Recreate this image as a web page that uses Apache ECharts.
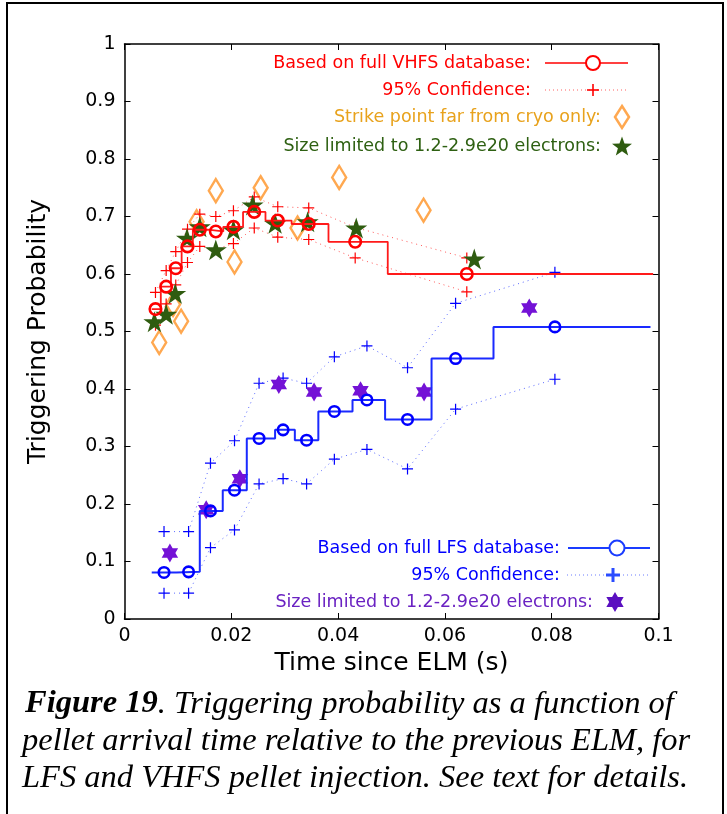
<!DOCTYPE html>
<html>
<head>
<meta charset="utf-8">
<script src="https://cdn.jsdelivr.net/npm/echarts@6.0.0/dist/echarts.min.js"></script>
<style>
html,body{margin:0;padding:0;background:#fff;}
#chart{width:727px;height:814px;}
</style>
</head>
<body>
<div id="chart"></div>
<script>
// ---- Data ----
// VHFS (red)
const vhfsT     = [0.0058, 0.0078, 0.0096, 0.0118, 0.0141, 0.0171, 0.0204, 0.0243, 0.0287, 0.0345, 0.0432, 0.0641];
const vhfsP     = [0.539, 0.578, 0.610, 0.648, 0.677, 0.674, 0.682, 0.708, 0.693, 0.687, 0.656, 0.600];
const vhfsUpper = [0.568, 0.606, 0.639, 0.678, 0.704, 0.700, 0.710, 0.734, 0.717, 0.715, 0.681, 0.628];
const vhfsLower = [0.511, 0.548, 0.581, 0.620, 0.648, 0.643, 0.653, 0.680, 0.664, 0.660, 0.628, 0.569];
const vhfsEdges = [0.0051, 0.0068, 0.0087, 0.0107, 0.0128, 0.0156, 0.0185, 0.0222, 0.0264, 0.0313, 0.0382, 0.0493, 0.0990];
// Strike point far from cryo only (orange diamonds)
const strikeT = [0.0065, 0.0091, 0.0106, 0.0135, 0.0171, 0.0206, 0.0255, 0.0324, 0.0402, 0.0560];
const strikeP = [0.481, 0.547, 0.518, 0.691, 0.745, 0.621, 0.750, 0.680, 0.768, 0.711];
// VHFS size limited (green stars)
const sizeVT = [0.0056, 0.0078, 0.0095, 0.0117, 0.0141, 0.0171, 0.0204, 0.0240, 0.0282, 0.0343, 0.0434, 0.0655];
const sizeVP = [0.517, 0.530, 0.566, 0.662, 0.682, 0.642, 0.677, 0.720, 0.688, 0.691, 0.680, 0.626];
// LFS (blue)
const lfsT     = [0.0074, 0.0120, 0.0161, 0.0206, 0.0252, 0.0297, 0.0341, 0.0393, 0.0454, 0.0530, 0.0620, 0.0806];
const lfsP     = [0.081, 0.082, 0.188, 0.224, 0.314, 0.329, 0.311, 0.361, 0.381, 0.347, 0.453, 0.508];
const lfsUpper = [0.152, 0.152, 0.271, 0.310, 0.410, 0.419, 0.410, 0.456, 0.475, 0.437, 0.549, 0.603];
const lfsLower = [0.045, 0.045, 0.124, 0.155, 0.235, 0.244, 0.235, 0.278, 0.295, 0.261, 0.365, 0.417];
const lfsEdges = [0.0051, 0.0097, 0.0141, 0.0184, 0.0229, 0.0282, 0.0319, 0.0363, 0.0427, 0.0488, 0.0575, 0.0691, 0.0985];
// LFS size limited (purple stars)
const sizeLT = [0.0085, 0.0153, 0.0216, 0.0289, 0.0355, 0.0442, 0.0561, 0.0758];
const sizeLP = [0.115, 0.190, 0.244, 0.408, 0.395, 0.397, 0.395, 0.541];
// Axis ticks
const xTicks = [0, 0.02, 0.04, 0.06, 0.08, 0.1];
const yTicks = [0, 0.1, 0.2, 0.3, 0.4, 0.5, 0.6, 0.7, 0.8, 0.9, 1];

// Legend / caption texts
const vhfsLegend = ['Based on full VHFS database:', '95% Confidence:', 'Strike point far from cryo only:', 'Size limited to 1.2-2.9e20 electrons:'];
const lfsLegend = ['Based on full LFS database:', '95% Confidence:', 'Size limited to 1.2-2.9e20 electrons:'];
const captionLines = ['{b|Figure 19}. Triggering probability as a function of',
  'pellet arrival time relative to the previous ELM, for',
  'LFS and VHFS pellet injection. See text for details.'];

// ---- helpers ----
const zip = (a, b) => a.map((v, i) => [v, b[i]]);
function stepData(edges, vals) {
  const d = vals.map((v, i) => [edges[i], v]);
  d.push([edges[edges.length - 1], vals[vals.length - 1]]);
  return d;
}
const PLUS = 'path://M0,5L10,5M5,0L5,10';
const STAR5 = 'path://M50,0L61.2,34.5L97.6,34.5L68.2,55.9L79.4,90.5L50,69.1L20.6,90.5L31.8,55.9L2.4,34.5L38.8,34.5Z';
const STAR6 = 'path://M50,0L64.4,25L93.3,25L78.9,50L93.3,75L64.4,75L50,100L35.6,75L6.7,75L21.1,50L6.7,25L35.6,25Z';
function starPoints(cx, cy, rO, rI, n) {
  const p = [];
  for (let i = 0; i < 2 * n; i++) {
    const r = i % 2 === 0 ? rO : rI;
    const a = -Math.PI / 2 + i * Math.PI / n;
    p.push([cx + r * Math.cos(a), cy + r * Math.sin(a)]);
  }
  return p;
}

const FONT = '"DejaVu Sans", sans-serif';
const RED = '#ff0000', BLUE = '#0000ff';
const ORANGE_T = '#e8a21c', ORANGE_M = '#ffa850';
const GREEN_T = '#2e6012', GREEN_M = '#2f5c10';
const PURPLE_T = '#6a22c2', PURPLE_M = '#7412d6';
const LF = 17.5;

const axisCommon = {
  type: 'value',
  splitLine: { show: false },
  axisLine: { onZero: false, lineStyle: { color: '#000', width: 1.5 } },
  axisTick: { inside: true, length: 6, lineStyle: { color: '#000', width: 1 } }
};

const chart = echarts.init(document.getElementById('chart'), null, { renderer: 'canvas' });

// legend graphics
const G = [];
function legText(txt, xr, y, color) {
  G.push({ type: 'text', x: xr, y: y, z: 100, style: { text: txt, fill: color, fontSize: LF, fontFamily: FONT, align: 'right', verticalAlign: 'middle' } });
}
function legLine(x1, x2, y, color, dotted, w) {
  G.push({ type: 'line', z: 100, shape: { x1: x1, y1: y, x2: x2, y2: y }, style: { stroke: color, lineWidth: w || 1.5, lineDash: dotted ? [1, 3] : null } });
}
function legCircle(cx, cy, r, color) {
  G.push({ type: 'circle', z: 101, shape: { cx: cx, cy: cy, r: r }, style: { fill: '#fff', stroke: color, lineWidth: 2 } });
}
function legPlus(cx, cy, s, color, w) {
  G.push({ type: 'line', z: 101, shape: { x1: cx - s, y1: cy, x2: cx + s, y2: cy }, style: { stroke: color, lineWidth: w } });
  G.push({ type: 'line', z: 101, shape: { x1: cx, y1: cy - s, x2: cx, y2: cy + s }, style: { stroke: color, lineWidth: w } });
}
// top legend (VHFS)
legText(vhfsLegend[0], 531, 63, RED); legLine(545, 628, 63, RED, false, 1.5); legCircle(593, 63, 7, RED);
legText(vhfsLegend[1], 531, 90, RED); legLine(545, 628, 90, '#ff6060', true, 1); legPlus(593, 90, 6, RED, 1.6);
legText(vhfsLegend[2], 601, 117, ORANGE_T);
G.push({ type: 'polygon', z: 101, shape: { points: [[622, 106], [629, 117], [622, 128], [615, 117]] }, style: { fill: 'none', stroke: ORANGE_M, lineWidth: 2.5 } });
legText(vhfsLegend[3], 601, 146, GREEN_T);
G.push({ type: 'polygon', z: 101, shape: { points: starPoints(622, 147, 10.5, 4.3, 5) }, style: { fill: GREEN_M } });
// bottom legend (LFS)
legText(lfsLegend[0], 560, 548, BLUE); legLine(568, 650, 548, '#1a3cff', false, 2); legCircle(617, 548, 7.5, '#1a3cff');
legText(lfsLegend[1], 560, 575, BLUE); legLine(567, 648, 575, '#6a7cff', true, 1); legPlus(613, 575, 7, '#2a4cff', 3);
legText(lfsLegend[2], 593, 602, PURPLE_T);
G.push({ type: 'polygon', z: 101, shape: { points: starPoints(615, 602, 10, 5.8, 6) }, style: { fill: '#5a10c0' } });
// page frame
G.push({ type: 'rect', z: 0, shape: { x: 7, y: 3, width: 716, height: 830 }, style: { fill: 'none', stroke: '#000', lineWidth: 2 } });
// caption
const capY = [704, 741, 778];
captionLines.forEach((t, i) => {
  G.push({ type: 'text', x: i === 0 ? 25 : 22, y: capY[i], z: 100,
    style: { text: t, fill: '#000', fontSize: 32.5, fontFamily: '"Liberation Serif", serif', fontStyle: 'italic', verticalAlign: 'middle',
      rich: { b: { fontSize: 32.5, fontFamily: '"Liberation Serif", serif', fontStyle: 'italic', fontWeight: 'bold', fill: '#000' } } } });
});

const option = {
  backgroundColor: '#fff',
  animation: false,
  grid: { left: 124.5, top: 44, right: 68.5, bottom: 195, containLabel: false, outerBoundsMode: 'none' },
  xAxis: [
    Object.assign({}, axisCommon, {
      position: 'bottom', min: xTicks[0], max: xTicks[xTicks.length - 1], interval: xTicks[1] - xTicks[0],
      axisLabel: { fontSize: 19, color: '#000', fontFamily: FONT, margin: 8 },
      name: 'Time since ELM (s)', nameLocation: 'middle', nameGap: 29,
      nameTextStyle: { fontSize: 25, color: '#000', fontFamily: FONT }
    }),
    Object.assign({}, axisCommon, {
      position: 'top', min: xTicks[0], max: xTicks[xTicks.length - 1], interval: xTicks[1] - xTicks[0],
      axisLabel: { show: false }
    })
  ],
  yAxis: [
    Object.assign({}, axisCommon, {
      position: 'left', min: yTicks[0], max: yTicks[yTicks.length - 1], interval: yTicks[1] - yTicks[0],
      axisLabel: { fontSize: 19, color: '#000', fontFamily: FONT, margin: 9 },
      name: 'Triggering Probability', nameLocation: 'middle', nameGap: 74, nameRotate: 90,
      nameTextStyle: { fontSize: 25, color: '#000', fontFamily: FONT }
    }),
    Object.assign({}, axisCommon, {
      position: 'right', min: yTicks[0], max: yTicks[yTicks.length - 1], interval: yTicks[1] - yTicks[0],
      axisLabel: { show: false }
    })
  ],
  graphic: G,
  series: [
    { type: 'scatter', z: 1, data: zip(strikeT, strikeP), symbol: 'diamond', symbolSize: [14, 23],
      itemStyle: { color: 'rgba(255,255,255,0)', borderColor: ORANGE_M, borderWidth: 2.5, opacity: 1 } },
    { type: 'line', z: 2, data: zip(vhfsT, vhfsUpper), symbol: 'none', lineStyle: { color: '#ff5a5a', width: 1, type: [1, 4] } },
    { type: 'line', z: 2, data: zip(vhfsT, vhfsLower), symbol: 'none', lineStyle: { color: '#ff5a5a', width: 1, type: [1, 4] } },
    { type: 'line', z: 2, data: zip(lfsT, lfsUpper), symbol: 'none', lineStyle: { color: '#5a6aff', width: 1, type: [1, 4] } },
    { type: 'line', z: 2, data: zip(lfsT, lfsLower), symbol: 'none', lineStyle: { color: '#5a6aff', width: 1, type: [1, 4] } },
    { type: 'scatter', z: 3, data: zip(vhfsT, vhfsUpper).concat(zip(vhfsT, vhfsLower)), symbol: PLUS, symbolSize: 11,
      itemStyle: { color: 'rgba(0,0,0,0)', borderColor: RED, borderWidth: 1.2, opacity: 1 } },
    { type: 'scatter', z: 3, data: zip(lfsT, lfsUpper).concat(zip(lfsT, lfsLower)), symbol: PLUS, symbolSize: 11,
      itemStyle: { color: 'rgba(0,0,0,0)', borderColor: BLUE, borderWidth: 1.2, opacity: 1 } },
    { type: 'scatter', z: 4, data: zip(sizeVT, sizeVP), symbol: STAR5, symbolSize: 22, symbolKeepAspect: true,
      itemStyle: { color: GREEN_M, opacity: 1 } },
    { type: 'scatter', z: 4, data: zip(sizeLT, sizeLP), symbol: STAR6, symbolSize: 19, symbolKeepAspect: true,
      itemStyle: { color: PURPLE_M, opacity: 1 } },
    { type: 'line', z: 5, data: stepData(vhfsEdges, vhfsP), step: 'end', symbol: 'none', lineStyle: { color: '#ff1a1a', width: 1.8 } },
    { type: 'line', z: 5, data: stepData(lfsEdges, lfsP), step: 'end', symbol: 'none', lineStyle: { color: '#1a2aff', width: 2 } },
    { type: 'scatter', z: 6, data: zip(vhfsT, vhfsP), symbol: 'circle', symbolSize: 11.5,
      itemStyle: { color: 'rgba(255,255,255,0)', borderColor: RED, borderWidth: 2.6, opacity: 1 } },
    { type: 'scatter', z: 6, data: zip(lfsT, lfsP), symbol: 'circle', symbolSize: 10.5,
      itemStyle: { color: 'rgba(255,255,255,0)', borderColor: BLUE, borderWidth: 2.6, opacity: 1 } }
  ]
};
chart.setOption(option);
</script>
</body>
</html>
